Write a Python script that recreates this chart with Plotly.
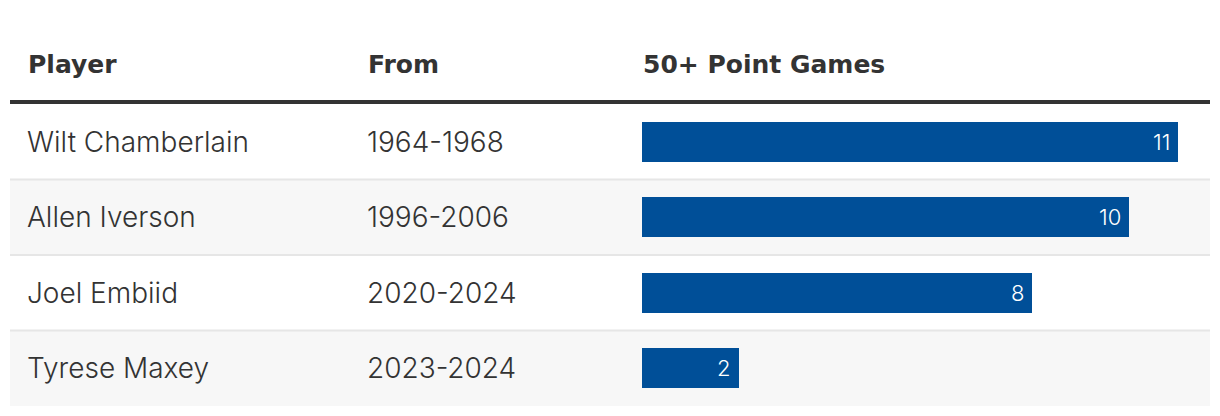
import plotly.graph_objects as go

players = ["Wilt Chamberlain", "Allen Iverson", "Joel Embiid", "Tyrese Maxey"]
years = ["1964-1968", "1996-2006", "2020-2024", "2023-2024"]
games = [11, 10, 8, 2]
headers = ["Player", "From", "50+ Point Games"]

W, H = 1220, 416
px = lambda x: x / W
py = lambda y: 1 - y / H

BAR = "#004f98"
TXT = "#333333"
BODY_FONT = "Inter"
HEAD_FONT = "DejaVu Sans"

fig = go.Figure()
fig.add_trace(go.Bar(
    x=games, y=players, orientation="h", marker=dict(color=BAR, line=dict(width=0)),
    width=0.53, hoverinfo="skip", showlegend=False,
))

shapes = []
for i, p in enumerate(players):
    if i % 2 == 1:
        shapes.append(dict(type="rect", xref="paper", yref="y", x0=px(10), x1=px(1210),
                           y0=i - 0.5, y1=i + 0.5, fillcolor="#f7f7f7", line=dict(width=0), layer="below"))
for i in range(1, len(players)):
    shapes.append(dict(type="line", xref="paper", yref="y", x0=px(10), x1=px(1210),
                       y0=i - 0.5, y1=i - 0.5, line=dict(color="#e6e6e6", width=2), layer="below"))
shapes.append(dict(type="line", xref="paper", yref="paper", x0=px(10), x1=px(1210),
                   y0=py(102), y1=py(102), line=dict(color=TXT, width=4)))

ann = []
col_x = [26, 366, 641]
for h, cx in zip(headers, col_x):
    ann.append(dict(text=h, xref="paper", yref="paper", x=px(cx), y=py(64), xanchor="left",
                    yanchor="middle", showarrow=False,
                    font=dict(family=HEAD_FONT, size=25, color=TXT, weight=700)))
for p, yr in zip(players, years):
    ann.append(dict(text=p, xref="paper", yref="y", x=px(25), y=p, xanchor="left", yanchor="middle",
                    showarrow=False, font=dict(family=BODY_FONT, size=28, color=TXT, weight=300)))
    ann.append(dict(text=yr, xref="paper", yref="y", x=px(365), y=p, xanchor="left", yanchor="middle",
                    showarrow=False, font=dict(family=BODY_FONT, size=28, color=TXT, weight=300)))
for p, g in zip(players, games):
    ann.append(dict(text=str(g), xref="x", yref="y", x=g, y=p, xanchor="right", yanchor="middle",
                    xshift=-6, showarrow=False, font=dict(family=BODY_FONT, size=22, color="white", weight=300)))

fig.update_layout(
    width=W, height=H, margin=dict(l=0, r=0, t=0, b=0),
    paper_bgcolor="white", plot_bgcolor="rgba(0,0,0,0)",
    xaxis=dict(domain=[px(642), px(1178)], range=[0, 11], visible=False, fixedrange=True),
    yaxis=dict(domain=[py(406), py(104)], range=[3.5, -0.5], visible=False, fixedrange=True,
               categoryorder="array", categoryarray=players),
    shapes=shapes, annotations=ann, bargap=0,
)
fig.write_html("out.html")
